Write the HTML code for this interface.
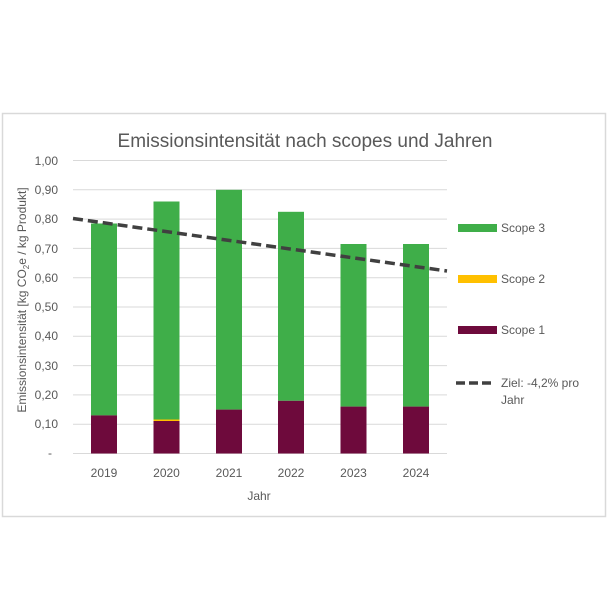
<!DOCTYPE html>
<html><head><meta charset="utf-8"><style>
body{margin:0;background:#fff;width:608px;height:608px;overflow:hidden}
text{font-family:"Liberation Sans",sans-serif;fill:#595959}
</style></head><body>
<svg width="608" height="608" viewBox="0 0 608 608">
<rect x="2.5" y="113.5" width="603" height="403" fill="#fff" stroke="#d9d9d9" stroke-width="1.5"/>
<text x="305" y="147" font-size="19" text-anchor="middle">Emissionsintensität nach scopes und Jahren</text>
<g stroke="#d9d9d9" stroke-width="1">
<line x1="73" x2="447" y1="160.5" y2="160.5"/><line x1="73" x2="447" y1="189.8" y2="189.8"/>
<line x1="73" x2="447" y1="219.1" y2="219.1"/><line x1="73" x2="447" y1="248.4" y2="248.4"/>
<line x1="73" x2="447" y1="277.7" y2="277.7"/><line x1="73" x2="447" y1="307" y2="307"/>
<line x1="73" x2="447" y1="336.3" y2="336.3"/><line x1="73" x2="447" y1="365.6" y2="365.6"/>
<line x1="73" x2="447" y1="394.9" y2="394.9"/><line x1="73" x2="447" y1="424.2" y2="424.2"/>
<line x1="73" x2="447" y1="453.5" y2="453.5"/>
</g>
<g font-size="12" text-anchor="end">
<text x="58" y="165">1,00</text><text x="58" y="194">0,90</text><text x="58" y="223">0,80</text>
<text x="58" y="253">0,70</text><text x="58" y="282">0,60</text><text x="58" y="311">0,50</text>
<text x="58" y="340">0,40</text><text x="58" y="370">0,30</text><text x="58" y="399">0,20</text>
<text x="58" y="428">0,10</text><text x="52" y="457">-</text>
</g>
<!-- bars: y0=453.5, scale 293 -->
<g>
<rect x="91" y="223.5" width="26" height="191.9" fill="#3fae49"/><rect x="91" y="415.4" width="26" height="38.1" fill="#6e0a3c"/>
<rect x="153.5" y="201.5" width="26" height="218.5" fill="#3fae49"/><rect x="153.5" y="419.5" width="26" height="1.5" fill="#ffc000"/><rect x="153.5" y="421" width="26" height="32.5" fill="#6e0a3c"/>
<rect x="216" y="189.8" width="26" height="219.8" fill="#3fae49"/><rect x="216" y="409.6" width="26" height="43.9" fill="#6e0a3c"/>
<rect x="278" y="211.8" width="26" height="189" fill="#3fae49"/><rect x="278" y="400.8" width="26" height="52.7" fill="#6e0a3c"/>
<rect x="340.5" y="244" width="26" height="162.6" fill="#3fae49"/><rect x="340.5" y="406.6" width="26" height="46.9" fill="#6e0a3c"/>
<rect x="403" y="244" width="26" height="162.6" fill="#3fae49"/><rect x="403" y="406.6" width="26" height="46.9" fill="#6e0a3c"/>
</g>
<line x1="73" y1="218.5" x2="447" y2="271" stroke="#404040" stroke-width="3.5" stroke-dasharray="10,5"/>
<g font-size="12" text-anchor="middle">
<text x="104" y="477">2019</text><text x="166.5" y="477">2020</text><text x="229" y="477">2021</text>
<text x="291" y="477">2022</text><text x="353.5" y="477">2023</text><text x="416" y="477">2024</text>
<text x="259" y="500">Jahr</text>
</g>
<text transform="translate(26,300) rotate(-90)" font-size="12" text-anchor="middle">Emissionsintensität [kg CO<tspan font-size="8" dy="3">2</tspan><tspan dy="-3">e / kg Produkt]</tspan></text>
<rect x="458" y="224" width="39" height="8" fill="#3fae49"/><text x="501" y="232" font-size="12">Scope 3</text>
<rect x="458" y="275" width="39" height="8" fill="#ffc000"/><text x="501" y="283" font-size="12">Scope 2</text>
<rect x="458" y="326" width="39" height="8" fill="#6e0a3c"/><text x="501" y="334" font-size="12">Scope 1</text>
<line x1="456" y1="383" x2="494" y2="383" stroke="#404040" stroke-width="3.5" stroke-dasharray="9,4"/>
<text x="501" y="387" font-size="12">Ziel: -4,2% pro</text><text x="501" y="404" font-size="12">Jahr</text>
</svg>
</body></html>
